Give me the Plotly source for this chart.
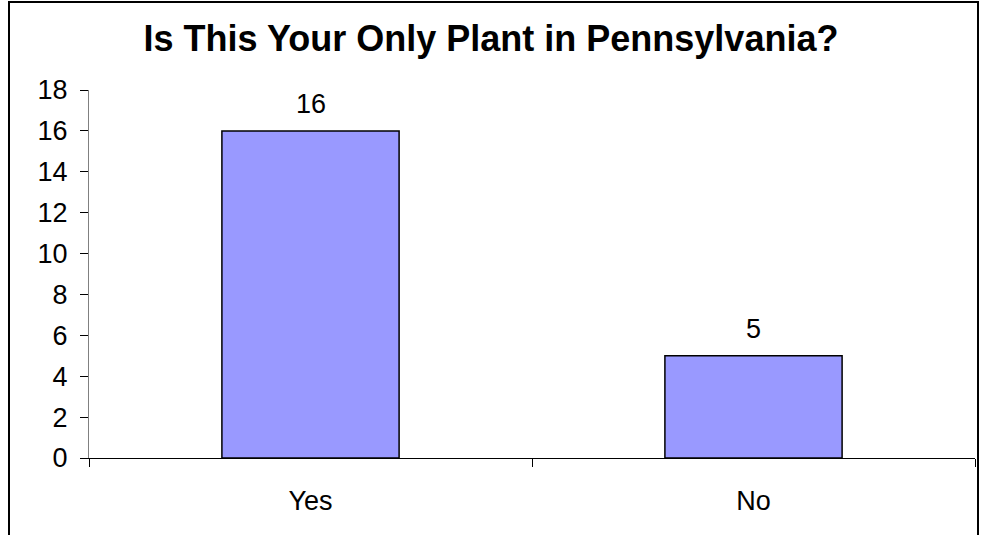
import plotly.graph_objects as go

categories = ["Yes", "No"]
values = [16, 5]
y_ticks = [0, 2, 4, 6, 8, 10, 12, 14, 16, 18]
title_text = "Is This Your Only Plant in Pennsylvania?"

W, H = 982, 535
L, R, T, B = 89, 7, 90, 77
pw, ph = W - L - R, H - T - B
FONT = "Liberation Sans, Arial"

def px_x(x):
    return (x - L) / pw

def px_y(y):
    return (H - B - y) / ph

fig = go.Figure()
fig.add_trace(go.Bar(
    x=categories, y=values,
    marker=dict(color="#9999FF", line=dict(color="black", width=1.5)),
    width=0.4,
))
for c, v in zip(categories, values):
    fig.add_annotation(x=c, y=v, text=str(v), showarrow=False,
                       yanchor="bottom", yshift=10,
                       font=dict(family=FONT, size=27, color="black"))

fig.update_layout(
    width=W, height=H,
    margin=dict(l=L, r=R, t=T, b=B),
    paper_bgcolor="white", plot_bgcolor="white",
    showlegend=False,
    title=dict(text="<b>" + title_text + "</b>", x=0.5, xanchor="center",
               y=1 - 38 / H, yanchor="middle",
               font=dict(family=FONT, size=36, color="black")),
    font=dict(family=FONT, size=27, color="black"),
    xaxis=dict(showline=True, linecolor="black", linewidth=1,
               ticks="outside", tickson="boundaries", ticklen=8, tickcolor="black",
               showgrid=False, ticklabelstandoff=19,
               tickfont=dict(family=FONT, size=27, color="black")),
    yaxis=dict(range=[0, 18], tickvals=y_ticks, showline=True, linecolor="#808080",
               linewidth=1, ticks="outside", ticklen=8, tickcolor="black",
               showgrid=False, zeroline=False, ticklabelstandoff=7,
               tickfont=dict(family=FONT, size=27, color="black")),
    shapes=[dict(type="rect", xref="paper", yref="paper",
                 x0=px_x(9), x1=px_x(978), y0=px_y(540), y1=px_y(2),
                 line=dict(color="black", width=2), fillcolor="rgba(0,0,0,0)",
                 layer="above")],
)

fig.write_html("out.html")
